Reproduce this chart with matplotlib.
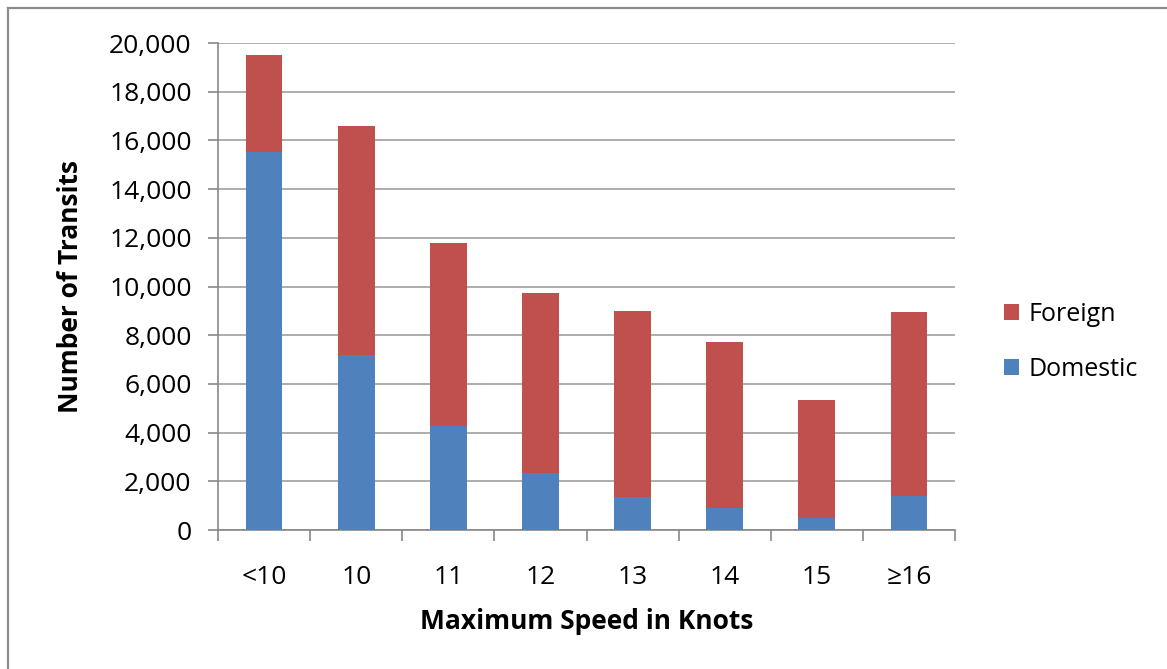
import matplotlib.pyplot as plt
from matplotlib.lines import Line2D
import numpy as np

speeds = ["<10", "10", "11", "12", "13", "14", "15", "≥16"]
domestic = [15540, 7170, 4260, 2330, 1360, 920, 510, 1410]
total = [19500, 16600, 11780, 9730, 8990, 7710, 5350, 8950]
foreign = [t - d for t, d in zip(total, domestic)]

plt.rcParams['font.family'] = ['Open Sans', 'DejaVu Sans']
fs = 19

fig = plt.figure(figsize=(11.67, 6.69), dpi=100)
ax = fig.add_axes([218 / 1167, 1 - 530 / 669, (955 - 218) / 1167, (530 - 43) / 669])

x = np.arange(len(speeds))
ax.bar(x, domestic, width=0.4, color="#4f81bd", label="Domestic", zorder=3)
ax.bar(x, foreign, width=0.4, bottom=domestic, color="#c0504d", label="Foreign", zorder=3)

ax.set_xlim(-0.5, len(speeds) - 0.5)
ax.set_ylim(0, 20000)
ax.set_yticks(range(0, 20001, 2000))
ax.set_yticklabels([f"{v:,}" for v in range(0, 20001, 2000)], fontsize=fs)
ax.yaxis.grid(True, color="#a0a0a0", linewidth=1.2, zorder=0)

# category labels in the middle, tick marks between categories
ax.set_xticks(x)
ax.set_xticklabels(speeds, fontsize=fs)
ax.tick_params(axis="x", length=0, pad=25)
ax.set_xticks(np.arange(-0.5, len(speeds), 1), minor=True)
ax.tick_params(axis="x", which="minor", length=8, color="#888888", width=1.2)
ax.tick_params(axis="y", length=7, color="#888888", width=1.2, pad=12)

for side in ["top", "right"]:
    ax.spines[side].set_visible(False)
for side in ["left", "bottom"]:
    ax.spines[side].set_color("#888888")
    ax.spines[side].set_linewidth(1.2)

ax.set_xlabel("Maximum Speed in Knots", fontsize=fs, fontweight="bold", labelpad=13)
ax.set_ylabel("Number of Transits", fontsize=fs, fontweight="bold", labelpad=18)

handles, labels = ax.get_legend_handles_labels()
fig.legend(handles[::-1], labels[::-1], loc="center left",
           bbox_to_anchor=(981 / 1167, 1 - 342 / 669), frameon=False,
           fontsize=18, handlelength=0.6, handleheight=0.6,
           labelspacing=1.2, handletextpad=0.4)

# chart frame: only the top and left edges fall inside the image
fig.lines.append(Line2D([8 / 1167, 1], [1 - 8 / 669, 1 - 8 / 669],
                        transform=fig.transFigure, color="#8c8c8c", linewidth=1.6))
fig.lines.append(Line2D([8 / 1167, 8 / 1167], [0, 1 - 8 / 669],
                        transform=fig.transFigure, color="#8c8c8c", linewidth=1.6))

fig.savefig("out.png", dpi=100)
